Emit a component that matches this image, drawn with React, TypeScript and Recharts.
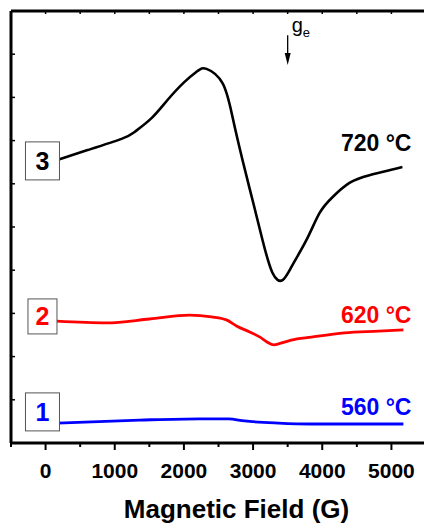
import React from "react";
import {
  LineChart, Line, XAxis, YAxis, ReferenceDot, ReferenceLine, Label,
} from "recharts";

// EPR spectra at three annealing temperatures (arbitrary intensity units, stacked)
const fieldBlack = [202, 607, 1098, 1286, 1532, 1763, 2009, 2197, 2327, 2558, 2702, 2847, 2991, 3136, 3280, 3425, 3569, 3772, 3960, 4147, 4393, 4682, 5159];
const signalBlack = [6.57, 6.78, 7.04, 7.2, 7.52, 7.94, 8.36, 8.61, 8.66, 8.33, 7.55, 6.55, 5.63, 4.7, 3.94, 3.77, 4.12, 4.7, 5.32, 5.69, 6.02, 6.2, 6.39];

const fieldRed = [159, 881, 1503, 2081, 2399, 2616, 2760, 2950, 3100, 3200, 3300, 3400, 3550, 3844, 4321, 4812, 5173];
const signalRed = [2.82, 2.78, 2.87, 2.96, 2.92, 2.85, 2.71, 2.57, 2.45, 2.34, 2.27, 2.31, 2.38, 2.45, 2.55, 2.59, 2.62];

const fieldBlue = [173, 1358, 2225, 2645, 2876, 3367, 3844, 5173];
const signalBlue = [0.46, 0.53, 0.56, 0.56, 0.51, 0.46, 0.44, 0.44];

const fieldTicks = [-500, 0, 500, 1000, 1500, 2000, 2500, 3000, 3500, 4000, 4500, 5000, 5500];
const intensityTicks = [0, 1, 2, 3, 4, 5, 6, 7, 8, 9, 10];

const temperatures = ["560 °C", "620 °C", "720 °C"];
const sampleIds = ["1", "2", "3"];
const colors = ["#0000ff", "#ff0000", "#000000"];

// annotation anchors (data units)
const tempLabelX = 4780;
const tempLabelY = [0.65, 2.78, 6.75];
const boxX = -45;
const boxY = [0.72, 2.93, 6.53];
const boxW = [34, 29, 34];
const geField = 3500;

const FONT = "'Liberation Sans', Arial, Helvetica, sans-serif";

const zip = (xs: number[], ys: number[]) => xs.map((x, i) => ({ field: x, signal: ys[i] }));
const blackData = zip(fieldBlack, signalBlack);
const redData = zip(fieldRed, signalRed);
const blueData = zip(fieldBlue, signalBlue);

// eslint-disable-next-line @typescript-eslint/no-explicit-any
function FieldTick(props: any) {
  const { x, y, payload } = props;
  const major = payload.value % 1000 === 0;
  return (
    <g>
      <line x1={x} x2={x} y1={y} y2={y + (major ? 7 : 4)} stroke="#000" strokeWidth={2} />
      {major && (
        <text x={x} y={y + 35} textAnchor="middle" fontSize={21} fontWeight="bold" fontFamily={FONT} fill="#000">
          {payload.value}
        </text>
      )}
    </g>
  );
}

function sampleBox(i: number) {
  // eslint-disable-next-line @typescript-eslint/no-explicit-any
  return (props: any) => {
    const { cx, cy } = props;
    const w = boxW[i];
    const h = i === 1 ? 35 : 38;
    return (
      <g>
        <rect x={cx - w / 2} y={cy - h / 2} width={w} height={h} fill="#fff" stroke="#555" strokeWidth={1} />
        <text x={cx} y={cy + 9} textAnchor="middle" fontSize={25} fontWeight="bold" fontFamily={FONT} fill={colors[i]}>
          {sampleIds[i]}
        </text>
      </g>
    );
  };
}

function tempLabel(i: number) {
  // eslint-disable-next-line @typescript-eslint/no-explicit-any
  return (props: any) => {
    const { viewBox } = props;
    return (
      <text x={viewBox.x} y={viewBox.y} textAnchor="middle" fontSize={23} fontWeight="bold" fontFamily={FONT} fill={colors[i]}>
        {temperatures[i]}
      </text>
    );
  };
}

// eslint-disable-next-line @typescript-eslint/no-explicit-any
function GeArrow(props: any) {
  const { x1, y1, x2, y2 } = props;
  return (
    <g>
      <line x1={x1} y1={y1} x2={x2} y2={y2 - 10} stroke="#000" strokeWidth={1.3} />
      <polygon points={`${x2 - 3},${y2 - 12} ${x2 + 3},${y2 - 12} ${x2},${y2}`} fill="#000" />
      <text x={x1 + 4} y={y1 - 3} fontSize={20} fontFamily={FONT} fill="#000">
        g
        <tspan fontSize={13} dy={5}>e</tspan>
      </text>
    </g>
  );
}

export default function App() {
  return (
    <div style={{ position: "absolute", left: 0, top: 0, width: 424, height: 523, overflow: "hidden", background: "#fff" }}>
      <LineChart width={430} height={523} margin={{ top: 11, right: 4, left: 11, bottom: 0 }}>
        <XAxis
          type="number"
          dataKey="field"
          domain={[-500, 5500]}
          ticks={fieldTicks}
          interval={0}
          allowDataOverflow
          height={80}
          tickSize={0}
          tickMargin={0}
          tickLine={false}
          tick={<FieldTick />}
          axisLine={{ stroke: "#000", strokeWidth: 3 }}
        >
          <Label
            content={(p: any) => {
              const vb = p.viewBox;
              return (
                <text x={vb.x + vb.width / 2 + 18} y={518} textAnchor="middle" fontSize={26} fontWeight="bold" fontFamily={FONT} fill="#000">
                  Magnetic Field (G)
                </text>
              );
            }}
          />
        </XAxis>
        <XAxis
          xAxisId="top"
          orientation="top"
          type="number"
          dataKey="field"
          domain={[-500, 5500]}
          ticks={fieldTicks}
          interval={0}
          allowDataOverflow
          mirror
          height={1}
          tickSize={3}
          tickFormatter={() => ""}
          tickLine={{ stroke: "#000", strokeWidth: 1.5 }}
          axisLine={{ stroke: "#000", strokeWidth: 3 }}
        />
        <YAxis
          type="number"
          domain={[0, 10]}
          ticks={intensityTicks}
          interval={0}
          mirror
          width={1}
          tickSize={4}
          tickFormatter={() => ""}
          tickLine={{ stroke: "#000", strokeWidth: 1.5 }}
          axisLine={{ stroke: "#000", strokeWidth: 3 }}
        />
        <Line data={blueData} dataKey="signal" type="monotone" stroke={colors[0]} strokeWidth={2.8} dot={false} isAnimationActive={false} />
        <Line data={redData} dataKey="signal" type="monotone" stroke={colors[1]} strokeWidth={2.8} dot={false} isAnimationActive={false} />
        <Line data={blackData} dataKey="signal" type="natural" stroke={colors[2]} strokeWidth={2.6} dot={false} isAnimationActive={false} />
        {sampleIds.map((id, i) => (
          <ReferenceDot key={`box-${id}`} x={boxX} y={boxY[i]} r={0} shape={sampleBox(i)} />
        ))}
        {temperatures.map((t, i) => (
          <ReferenceDot key={`temp-${t}`} x={tempLabelX} y={tempLabelY[i]} r={0} fill="none" stroke="none" label={tempLabel(i)} />
        ))}
        <ReferenceLine
          segment={[{ x: geField, y: 9.44 }, { x: geField, y: 8.75 }]}
          shape={<GeArrow />}
        />
      </LineChart>
    </div>
  );
}
